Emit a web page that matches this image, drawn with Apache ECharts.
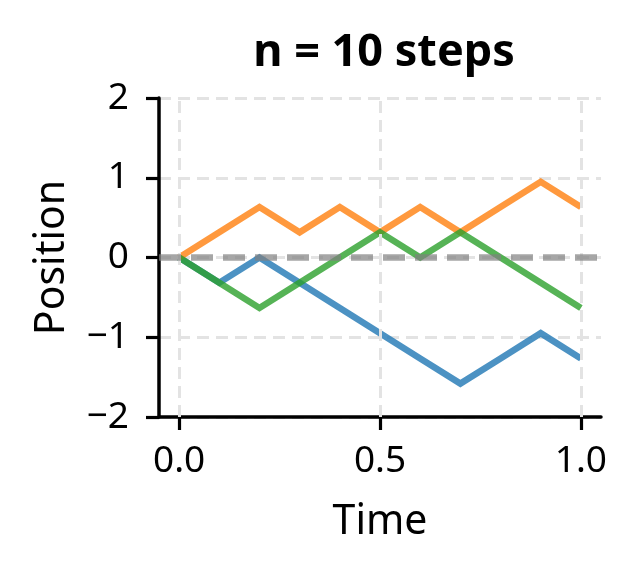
<!DOCTYPE html>
<html>
<head>
<meta charset="utf-8">
<script src="https://cdn.jsdelivr.net/npm/echarts@6/dist/echarts.min.js"></script>
<style>
html,body{margin:0;padding:0;background:#fff;}
#chart{width:635px;height:574px;}
</style>
</head>
<body>
<div id="chart"></div>
<script>
// Data
const time = [0.0, 0.1, 0.2, 0.3, 0.4, 0.5, 0.6, 0.7, 0.8, 0.9, 1.0];
const walkBlue = [0, -0.316, 0, -0.316, -0.632, -0.949, -1.265, -1.581, -1.265, -0.949, -1.265];
const walkOrange = [0, 0.316, 0.632, 0.316, 0.632, 0.316, 0.632, 0.316, 0.632, 0.949, 0.632];
const walkGreen = [0, -0.316, -0.632, -0.316, 0, 0.316, 0, 0.316, 0, -0.316, -0.632];
const xTicks = [0.0, 0.5, 1.0];
const yTicks = [-2, -1, 0, 1, 2];
const titleText = 'n = 10 steps';
const xName = 'Time';
const yName = 'Position';

const FONT = '"Noto Sans", sans-serif';
const pairs = ys => time.map((t, i) => [t, ys[i]]);
const lineSeries = (ys, color) => ({
  type: 'line',
  data: pairs(ys),
  showSymbol: false,
  symbol: 'none',
  lineStyle: { color: color, width: 6.5, opacity: 0.8, join: 'miter' },
  z: 3,
  animation: false
});

const chart = echarts.init(document.getElementById('chart'), null, { renderer: 'canvas' });
chart.setOption({
  animation: false,
  backgroundColor: '#ffffff',
  title: {
    text: titleText,
    left: 379,
    top: 26,
    textAlign: 'center',
    textStyle: { fontFamily: FONT, fontWeight: 'bold', fontSize: 45, color: '#000' }
  },
  grid: { left: 159, right: 34, top: 98, bottom: 157, containLabel: false },
  xAxis: {
    type: 'value',
    min: -0.05,
    max: 1.05,
    name: xName,
    nameLocation: 'middle',
    nameGap: 85,
    nameTextStyle: { fontFamily: FONT, fontSize: 41, color: '#000' },
    axisLine: { show: true, onZero: false, lineStyle: { color: '#000', width: 3.5 } },
    axisTick: { show: true, inside: false, length: 13, customValues: xTicks, lineStyle: { color: '#000', width: 3.2 } },
    axisLabel: {
      customValues: xTicks,
      margin: 26,
      fontFamily: FONT, fontSize: 37, color: '#000',
      formatter: v => v.toFixed(1)
    },
    splitLine: { show: false }
  },
  yAxis: {
    type: 'value',
    min: yTicks[0],
    max: yTicks[yTicks.length - 1],
    interval: 1,
    name: yName,
    nameLocation: 'middle',
    nameGap: 86,
    nameTextStyle: { fontFamily: FONT, fontSize: 41, color: '#000' },
    axisLine: { show: true, onZero: false, lineStyle: { color: '#000', width: 3.5 } },
    axisTick: { show: true, inside: false, length: 13, lineStyle: { color: '#000', width: 3.2 } },
    axisLabel: {
      margin: 30,
      fontFamily: FONT, fontSize: 37, color: '#000',
      formatter: v => (v < 0 ? '\u2212' + Math.abs(v) : String(v))
    },
    splitLine: { show: true, lineStyle: { color: '#e3e3e3', width: 3, type: [12, 7] } }
  },
  series: [
    {
      type: 'line',
      data: [],
      z: 1,
      silent: true,
      markLine: {
        silent: true,
        symbol: 'none',
        label: { show: false },
        lineStyle: { color: '#e3e3e3', width: 3, type: [12, 7] },
        data: xTicks.map(v => ({ xAxis: v }))
      }
    },
    lineSeries(walkBlue, '#1f77b4'),
    lineSeries(walkOrange, '#ff7f0e'),
    lineSeries(walkGreen, '#2ca02c'),
    {
      type: 'line',
      data: [],
      z: 5,
      silent: true,
      markLine: {
        silent: true,
        symbol: 'none',
        label: { show: false },
        lineStyle: { color: '#808080', width: 6.5, opacity: 0.7, type: [22, 10] },
        data: [{ yAxis: 0 }]
      }
    }
  ]
});
</script>
</body>
</html>
